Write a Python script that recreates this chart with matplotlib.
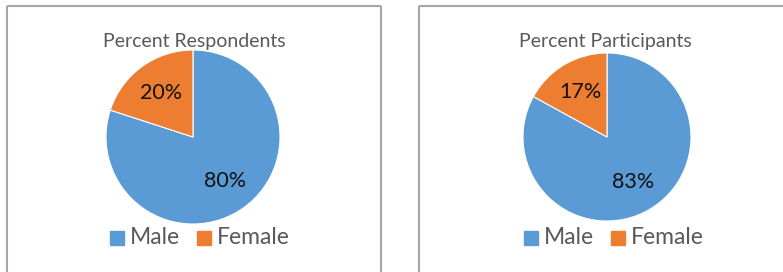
import matplotlib
matplotlib.use("Agg")
import matplotlib.pyplot as plt
from matplotlib.patches import Rectangle
from matplotlib.lines import Line2D

W, H = 783, 272
categories = ["Male", "Female"]
respondents = [80, 20]
participants = [83, 17]
titles = ["Percent Respondents", "Percent Participants"]
colors = ["#5B9BD5", "#ED7D31"]

plt.rcParams['font.family'] = ['Lato', 'DejaVu Sans']

fig = plt.figure(figsize=(W / 100, H / 100), dpi=100)

def px_axes(cx, cy, r):
    return fig.add_axes([(cx - r) / W, (H - cy - r) / H, 2 * r / W, 2 * r / H])

# panel borders
def border(x0, x1, y0, right=True):
    kw = dict(color="#A6A6A6", lw=1.5, transform=fig.transFigure, solid_capstyle='butt')
    fig.add_artist(Line2D([x0 / W, x0 / W], [0, 1 - y0 / H], **kw))
    fig.add_artist(Line2D([x0 / W, x1 / W], [1 - y0 / H, 1 - y0 / H], **kw))
    if right:
        fig.add_artist(Line2D([x1 / W, x1 / W], [0, 1 - y0 / H], **kw))

border(7, 381, 6)
border(419, 790, 6, right=False)

panels = [
    (respondents, titles[0], 193, 137, 87, 0.63, 194, 41),
    (participants, titles[1], 607, 137, 84, 0.62, 605, 41),
]

for vals, title, cx, cy, r, pdist, tx, ty in panels:
    ax = px_axes(cx, cy, r)
    wedges, texts, autotexts = ax.pie(
        vals, colors=colors, startangle=90, counterclock=False,
        autopct=lambda p: f"{p:.0f}%", pctdistance=pdist, radius=1,
        wedgeprops=dict(edgecolor="white", linewidth=0.8),
        textprops=dict(fontsize=15.5, color="#111111"))
    ax.set_xlim(-1, 1)
    ax.set_ylim(-1, 1)
    ax.set_axis_off()
    fig.text(tx / W, 1 - ty / H, title, ha="center", va="center",
             fontsize=14, color="#595959")
    # legend
    ly = 238
    lx = cx - 83
    fig.add_artist(Rectangle(((lx) / W, 1 - (ly + 7) / H), 14 / W, 14 / H,
                             transform=fig.transFigure, color=colors[0]))
    fig.text((lx + 20) / W, 1 - ly / H, categories[0], ha="left", va="center",
             fontsize=16.5, color="#595959")
    fig.add_artist(Rectangle(((lx + 87) / W, 1 - (ly + 7) / H), 14 / W, 14 / H,
                             transform=fig.transFigure, color=colors[1]))
    fig.text((lx + 107) / W, 1 - ly / H, categories[1], ha="left", va="center",
             fontsize=16.5, color="#595959")

fig.savefig("out.png", dpi=100)
